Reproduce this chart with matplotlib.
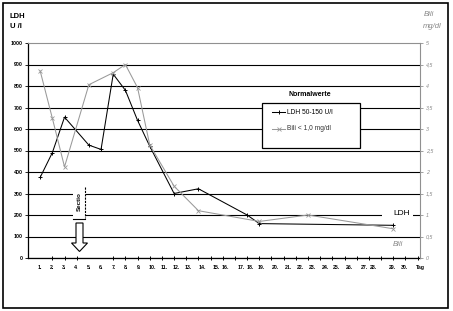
import numpy as np
import matplotlib
matplotlib.use('Agg')
import matplotlib.pyplot as plt
from matplotlib.transforms import Affine2D
from matplotlib.patches import Polygon, Rectangle
from matplotlib.lines import Line2D

plt.rcParams['font.family'] = ['Liberation Sans', 'DejaVu Sans']

# LDH in U/l and Bilirubin in mg/dl, per day after admission
ldh_day = [1, 2, 3, 5, 6, 7, 8, 9, 10, 12, 14, 18, 19, 29]
ldh_val = [375, 490, 655, 525, 505, 855, 780, 640, 520, 300, 322, 200, 160, 152]
bili_day = [1, 2, 3, 5, 7, 8, 9, 10, 12, 14, 19, 23, 29]
bili_val = [4.35, 3.25, 2.12, 4.03, 4.31, 4.5, 3.96, 2.63, 1.67, 1.1, 0.85, 1.0, 0.68]

day_labels = [f'{d}.' for d in range(1, 31)] + ['Tag']
label_pos = [1.0, 1.96, 2.97, 3.95, 5.0, 6.0, 7.05, 8.05, 9.1, 10.2, 11.2, 12.2, 13.2,
             14.3, 15.5, 16.2, 17.5, 18.3, 19.2, 20.3, 21.4, 22.4, 23.4, 24.4, 25.3,
             26.4, 27.6, 28.4, 29.9, 30.9, 32.2]
ldh_ticks = list(range(0, 1001, 100))
bili_ticks = np.arange(0, 5.01, 0.5)
bili_labels = ['0', '0,5', '1', '1,5', '2', '2,5', '3', '3,5', '4', '4,5', '5']


def slot(days):
    # the axis has one empty slot between day 28 and day 29
    return [d if d <= 28 else d + 1 for d in days]


W, H = 453, 311
fig = plt.figure(figsize=(W / 100, H / 100), dpi=100)
pix = Affine2D().scale(1 / W, -1 / H).translate(0, 1) + fig.transFigure

ax = fig.add_axes([28 / W, 53 / H, 392 / W, 215 / H])
ax.plot(slot(ldh_day), ldh_val, color='black', lw=0.75, marker='+', ms=3, mew=0.7, zorder=3)
ax.set_xlim(0, 32)
ax.set_ylim(0, 1000)
ax.set_yticks(ldh_ticks, labels=[str(t) for t in ldh_ticks], fontsize=3.8, fontweight='bold')
ax.tick_params(axis='y', length=2, width=0.6, pad=2)
ax.grid(axis='y', color='black', lw=0.8, zorder=0)
ax.yaxis.get_gridlines()[-1].set_visible(False)
ax.set_xticks(label_pos, labels=day_labels, fontsize=3.8, fontweight='bold')
ax.tick_params(axis='x', which='major', length=0, pad=5)
ax.set_xticks(range(1, 33), minor=True)
ax.tick_params(axis='x', which='minor', direction='inout', length=3.5, width=0.7)
ax.spines['top'].set_color('#909090')
ax.spines['right'].set_visible(False)
ax.spines['left'].set_linewidth(0.9)
ax.spines['bottom'].set_linewidth(0.9)

ax2 = ax.twinx()
ax2.plot(slot(bili_day), bili_val, color='#999999', lw=0.75, marker='x', ms=2.2, mew=0.6)
ax2.set_ylim(0, 5)
ax2.set_yticks(bili_ticks, labels=bili_labels, fontsize=3.8, fontstyle='italic', color='#888888')
ax2.tick_params(axis='y', length=2.5, width=0.6, color='#909090', pad=2)
for s in ['left', 'top', 'bottom']:
    ax2.spines[s].set_visible(False)
ax2.spines['right'].set_color('#909090')

# frame and axis titles
fig.add_artist(Rectangle((3, 3), 445, 305, fill=False, lw=1.2, ec='black', transform=pix))
fig.text(10, 16, 'LDH', fontsize=5.5, fontweight='bold', va='center', transform=pix)
fig.text(10, 26, 'U /l', fontsize=5.5, fontweight='bold', va='center', transform=pix)
fig.text(424, 15, 'Bili', fontsize=5.5, fontstyle='italic', color='#888888', va='center', transform=pix)
fig.text(423, 26, 'mg/dl', fontsize=5.5, fontstyle='italic', color='#888888', va='center', transform=pix)

# legend box with normal values
fig.text(310, 94, 'Normalwerte', fontsize=5, fontweight='bold', ha='center', va='center', transform=pix)
fig.add_artist(Rectangle((262, 103), 98, 45, fc='white', ec='black', lw=0.9, transform=pix, zorder=5))
fig.add_artist(Line2D([272, 278.5, 285], [112, 112, 112], color='black', lw=0.75, marker='+', ms=3,
                      mew=0.7, markevery=[1], transform=pix, zorder=6))
fig.add_artist(Line2D([272, 278.5, 285], [129, 129, 129], color='#999999', lw=0.75, marker='x', ms=2.2,
                      mew=0.6, markevery=[1], transform=pix, zorder=6))
fig.text(287, 112, 'LDH 50-150 U/l', fontsize=4.8, va='center', transform=pix, zorder=6)
fig.text(287, 129, 'Bili < 1,0 mg/dl', fontsize=4.8, va='center', color='#333333', transform=pix, zorder=6)

# Sectio marker
fig.add_artist(Rectangle((73, 187), 13, 31, fc='white', ec='none', transform=pix, zorder=4))
fig.add_artist(Line2D([84.5, 84.5], [187, 218], color='black', lw=0.8, ls=(0, (2, 1)), transform=pix, zorder=5))
fig.add_artist(Line2D([73, 85], [218.5, 218.5], color='black', lw=0.8, transform=pix, zorder=5))
fig.text(79.5, 202, 'Sectio', fontsize=4.5, fontweight='bold', rotation=90, ha='center', va='center',
         transform=pix, zorder=5)
fig.add_artist(Polygon([(76, 223), (83, 223), (83, 243), (87.5, 243), (79.5, 251.5), (71.5, 243), (76, 243)],
                       closed=True, fc='white', ec='black', lw=0.8, transform=pix, zorder=5))

# series labels on the right
fig.add_artist(Rectangle((382, 210), 31, 8, fc='white', ec='none', transform=pix, zorder=4))
fig.text(402, 213.5, 'LDH', fontsize=6, ha='center', va='center', transform=pix, zorder=5)
fig.text(398, 245, 'Bili', fontsize=5.5, fontstyle='italic', color='#888888', ha='center', va='center',
         transform=pix, zorder=5)

fig.savefig('out.png', dpi=100, facecolor='white')
